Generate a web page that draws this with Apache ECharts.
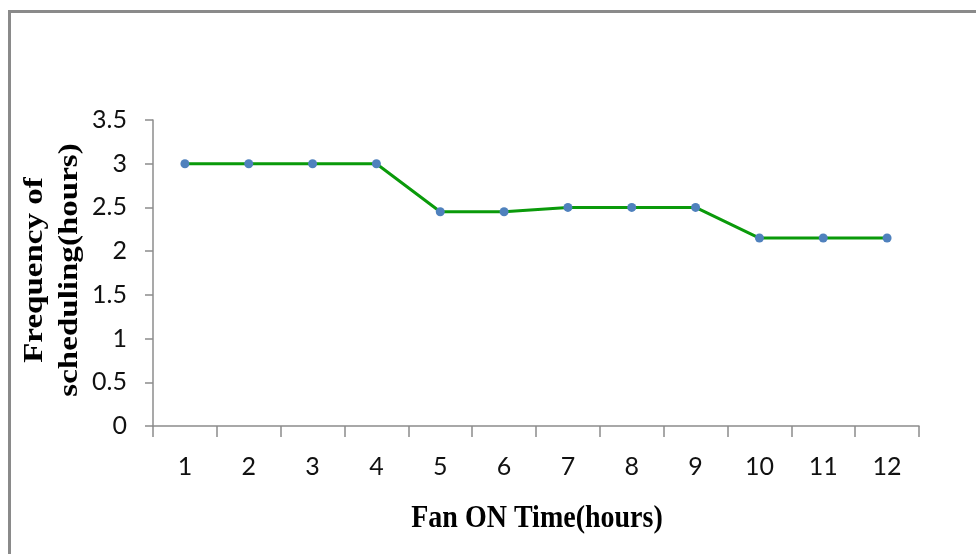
<!DOCTYPE html>
<html>
<head>
<meta charset="utf-8">
<script src="https://cdn.jsdelivr.net/npm/echarts@6/dist/echarts.min.js"></script>
<style>
html,body{margin:0;padding:0;background:#fff;}
#frame{position:absolute;left:8px;top:10px;width:980px;height:560px;border-top:3px solid #8a8a8a;border-left:3px solid #8a8a8a;box-sizing:border-box;}
#chart{position:absolute;left:0;top:0;width:976px;height:554px;}
</style>
</head>
<body>
<div id="frame"></div>
<div id="chart"></div>
<script>
const categories = ['1','2','3','4','5','6','7','8','9','10','11','12'];
const values = [3, 3, 3, 3, 2.45, 2.45, 2.5, 2.5, 2.5, 2.15, 2.15, 2.15];
const yTitle = 'Frequency of\nscheduling(hours)';
const xTitle = 'Fan ON Time(hours)';

const chart = echarts.init(document.getElementById('chart'), null, {renderer:'canvas'});
chart.setOption({
  animation: false,
  backgroundColor: 'transparent',
  grid: {left: 153, right: 57, top: 120, bottom: 128, containLabel: false},
  xAxis: {
    type: 'category',
    data: categories,
    boundaryGap: true,
    axisLine: {show: true, lineStyle: {color: '#8c8c8c', width: 1.5}},
    axisTick: {show: true, alignWithLabel: false, length: 11, lineStyle: {color: '#8c8c8c', width: 1.5}},
    axisLabel: {margin: 28, fontSize: 25, color: '#111', fontFamily: 'Lato'},
    splitLine: {show: false}
  },
  yAxis: {
    type: 'value',
    min: 0, max: 3.5, interval: 0.5,
    axisLine: {show: true, lineStyle: {color: '#8c8c8c', width: 1.5}},
    axisTick: {show: true, length: 8, lineStyle: {color: '#8c8c8c', width: 1.5}},
    axisLabel: {margin: 26, fontSize: 25, color: '#111', fontFamily: 'Lato'},
    splitLine: {show: false}
  },
  graphic: [
    {type: 'text', x: 537, y: 519, z: 10, scaleX: 1, scaleY: 1.12,
      style: {text: xTitle, fill: '#000', font: 'bold 28px "Liberation Serif"', textAlign: 'center', textVerticalAlign: 'middle'}},
    {type: 'text', x: 52, y: 270, rotation: Math.PI/2, scaleX: 1.18, scaleY: 1, z: 10,
      style: {text: yTitle, fill: '#000', font: 'bold 28px "Liberation Serif"', textAlign: 'center', textVerticalAlign: 'middle', lineHeight: 35}}
  ],
  series: [{
    type: 'line',
    data: values,
    symbol: 'circle',
    symbolSize: 9,
    lineStyle: {color: '#0a9a0a', width: 3},
    itemStyle: {color: '#4f81bd'}
  }]
});
</script>
</body>
</html>
